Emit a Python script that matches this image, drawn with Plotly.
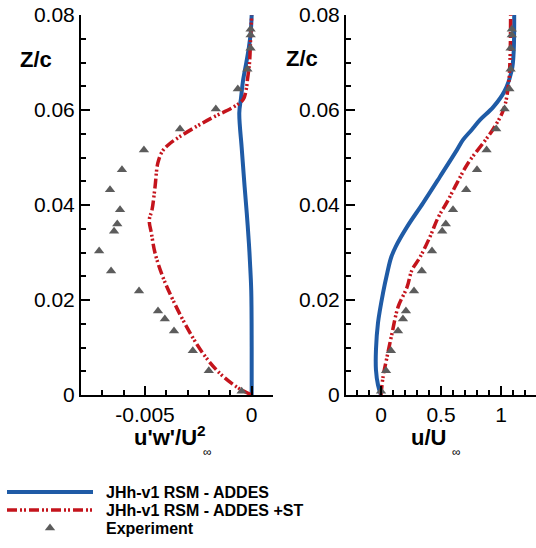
import plotly.graph_objects as go

# ---- Experiment (shared Z/c stations) ----
z_exp = [0.0008, 0.0051, 0.0093, 0.0135, 0.016, 0.0177, 0.0219, 0.0261, 0.0303,
         0.0345, 0.036, 0.039, 0.0432, 0.0474, 0.0516, 0.056, 0.0602, 0.0644,
         0.0686, 0.073, 0.0758, 0.077]
uw_exp = [-0.00047, -0.00201, -0.00276, -0.00364, -0.00407, -0.00439, -0.00528,
          -0.00659, -0.00715, -0.00645, -0.0063, -0.00617, -0.00664, -0.00608,
          -0.00505, -0.00336, -0.00168, -0.00065, -0.0002, -0.00005, -0.00005, -0.00005]
u_exp = [0.0, 0.042, 0.083, 0.142, 0.183, 0.208, 0.275, 0.34, 0.425, 0.51, 0.54,
         0.6, 0.71, 0.8, 0.88, 0.96, 1.03, 1.07, 1.08, 1.08, 1.09, 1.09]

# ---- JHh-v1 RSM - ADDES : u'w' profile ----
z_uw_rsm = [0.0, 0.010, 0.022, 0.028, 0.032, 0.0383, 0.0438, 0.048, 0.0522, 0.0594,
            0.0625, 0.0663, 0.070, 0.0726, 0.076, 0.080]
uw_rsm = [0.0, 0.0, -0.00002, -0.00008, -0.00013, -0.00023, -0.00033, -0.0004,
          -0.00047, -0.00058, -0.0005, -0.0004, -0.00025, -0.00015, -0.00005, 0.0]

# ---- JHh-v1 RSM - ADDES +ST : u'w' profile ----
z_uw_st = [0.0, 0.0017, 0.0046, 0.0088, 0.0143, 0.020, 0.0248, 0.0299, 0.0341, 0.0368,
           0.039, 0.0438, 0.0488, 0.0512, 0.0527, 0.0543, 0.0565, 0.0585, 0.0605,
           0.0622, 0.0645, 0.0663, 0.070, 0.075, 0.080]
uw_st = [0.0, -0.0007, -0.0015, -0.00229, -0.00304, -0.00369, -0.00416, -0.00453,
         -0.0047, -0.0048, -0.00467, -0.00453, -0.0044, -0.0042, -0.0039, -0.0034,
         -0.0026, -0.0018, -0.0009, -0.0004, -0.00025, -0.0002, -0.0001, -0.00005, 0.0]

# ---- JHh-v1 RSM - ADDES : u profile ----
z_u_rsm = [0.0, 0.0021, 0.0053, 0.0095, 0.0152, 0.0215, 0.0257, 0.029, 0.0312, 0.0354,
           0.0404, 0.0459, 0.0516, 0.0537, 0.0558, 0.0579, 0.0606, 0.064, 0.0684,
           0.072, 0.080]
u_rsm = [0.0, -0.025, -0.042, -0.042, -0.025, 0.017, 0.052, 0.085, 0.122, 0.217, 0.35,
         0.49, 0.633, 0.683, 0.755, 0.825, 0.935, 1.03, 1.09, 1.105, 1.11]

# ---- JHh-v1 RSM - ADDES +ST : u profile ----
z_u_st = [0.0, 0.0038, 0.008, 0.013, 0.0185, 0.0227, 0.0263, 0.029, 0.0333, 0.0373,
          0.0406, 0.0446, 0.0488, 0.053, 0.0558, 0.060, 0.0648, 0.0705, 0.080]
u_st = [0.0, 0.017, 0.05, 0.092, 0.142, 0.217, 0.258, 0.325, 0.408, 0.475, 0.55,
        0.633, 0.725, 0.85, 0.93, 1.02, 1.06, 1.075, 1.08]

# tick labels
z_ticks = [0, 0.02, 0.04, 0.06, 0.08]
z_ticktext = ["0", "0.02", "0.04", "0.06", "0.08"]
uw_ticks = [-0.005, 0]
uw_ticktext = ["-0.005", "0"]
u_ticks = [0, 0.5, 1]
u_ticktext = ["0", "0.5", "1"]

names = ["JHh-v1 RSM - ADDES", "JHh-v1 RSM - ADDES +ST", "Experiment"]

BLUE = "#1f5ba6"
RED = "#c4141c"
GREY = "#5c5c5c"
FONT = "Liberation Sans, Arial, sans-serif"
W, H = 536, 548

blue_line = dict(color=BLUE, width=4)
red_line = dict(color=RED, width=3.5, dash="10px,3px,2px,2px,2px,3px")
exp_marker = dict(symbol="triangle-up", size=9, color=GREY)

fig = go.Figure()
# left panel
fig.add_trace(go.Scatter(x=uw_rsm, y=z_uw_rsm, mode="lines", line=blue_line,
                         line_shape="spline", name="\u2002" + names[0], legend="legend",
                         xaxis="x", yaxis="y"))
fig.add_trace(go.Scatter(x=uw_st, y=z_uw_st, mode="lines", line=red_line,
                         line_shape="spline", name="\u2002" + names[1], legend="legend2",
                         xaxis="x", yaxis="y"))
fig.add_trace(go.Scatter(x=uw_exp, y=z_exp, mode="markers", marker=exp_marker,
                         name="\u2002" + names[2], legend="legend3", xaxis="x", yaxis="y"))
# right panel
fig.add_trace(go.Scatter(x=u_rsm, y=z_u_rsm, mode="lines", line=blue_line,
                         line_shape="spline", showlegend=False, xaxis="x2", yaxis="y2"))
fig.add_trace(go.Scatter(x=u_st, y=z_u_st, mode="lines", line=red_line,
                         line_shape="spline", showlegend=False, xaxis="x2", yaxis="y2"))
fig.add_trace(go.Scatter(x=u_exp, y=z_exp, mode="markers", marker=exp_marker,
                         showlegend=False, xaxis="x2", yaxis="y2"))


def px_x(p):
    return p / W


def px_y(p):
    return 1 - p / H


def minor_vals(lo, hi, step):
    n = int(round((hi - lo) / step))
    return [round(lo + i * step, 6) for i in range(n + 1)]


tick_font = dict(family=FONT, size=21, color="black")
common = dict(showline=True, linecolor="black", linewidth=2, mirror=False,
              ticks="inside", ticklen=9, tickwidth=2, tickcolor="black",
              showgrid=False, zeroline=False, tickfont=tick_font, fixedrange=True,
              automargin=False)


def minor(vals):
    return dict(tickmode="array", tickvals=vals, ticks="inside", ticklen=5,
                tickwidth=1.5, tickcolor="black", showgrid=False)


y_dom = [px_y(395), px_y(15)]

leg_font = dict(family=FONT, size=16, color="black", weight="bold")
leg_common = dict(xanchor="left", yanchor="middle", font=leg_font, itemwidth=86,
                  bgcolor="rgba(0,0,0,0)", borderwidth=0)

fig.update_layout(
    width=W, height=H,
    margin=dict(l=0, r=0, t=0, b=0, pad=0, autoexpand=False),
    plot_bgcolor="white", paper_bgcolor="white",
    xaxis=dict(domain=[px_x(81), px_x(273)], range=[-0.008, 0.001],
               tickvals=uw_ticks, ticktext=uw_ticktext,
               minor=minor(minor_vals(-0.008, 0.001, 0.001)),
               anchor="y", **common),
    yaxis=dict(domain=y_dom, range=[0, 0.08], tickvals=z_ticks, ticktext=z_ticktext,
               minor=minor(minor_vals(0, 0.08, 0.005)), anchor="x", **common),
    xaxis2=dict(domain=[px_x(346), 1.0], range=[-0.2917, 1.2917],
                tickvals=u_ticks, ticktext=u_ticktext,
                minor=minor(minor_vals(-0.2, 1.2, 0.1)),
                anchor="y2", **common),
    yaxis2=dict(domain=y_dom, range=[0, 0.08], tickvals=z_ticks, ticktext=z_ticktext,
                minor=minor(minor_vals(0, 0.08, 0.005)), anchor="x2", **common),
    showlegend=True,
    legend=dict(x=px_x(2), y=px_y(492), **leg_common),
    legend2=dict(x=px_x(2), y=px_y(510), **leg_common),
    legend3=dict(x=px_x(2), y=px_y(528), **leg_common),
)

title_font = dict(family=FONT, size=22, color="black", weight="bold")
ann = [
    dict(text="Z/c", x=px_x(36), y=px_y(60)),
    dict(text="Z/c", x=px_x(302), y=px_y(58)),
    dict(text="u'w'/U<sup>2</sup>", x=px_x(170), y=px_y(436)),
    dict(text="u/U", x=px_x(428), y=px_y(437)),
]
for a in ann:
    fig.add_annotation(xref="paper", yref="paper", showarrow=False,
                       xanchor="center", yanchor="middle", font=title_font, **a)
for xi, yi in [(207, 452), (456, 452)]:
    fig.add_annotation(text="∞", xref="paper", yref="paper", x=px_x(xi), y=px_y(yi),
                       showarrow=False, xanchor="center", yanchor="middle",
                       font=dict(family=FONT, size=12, color="black"))

fig.write_html("out.html")
